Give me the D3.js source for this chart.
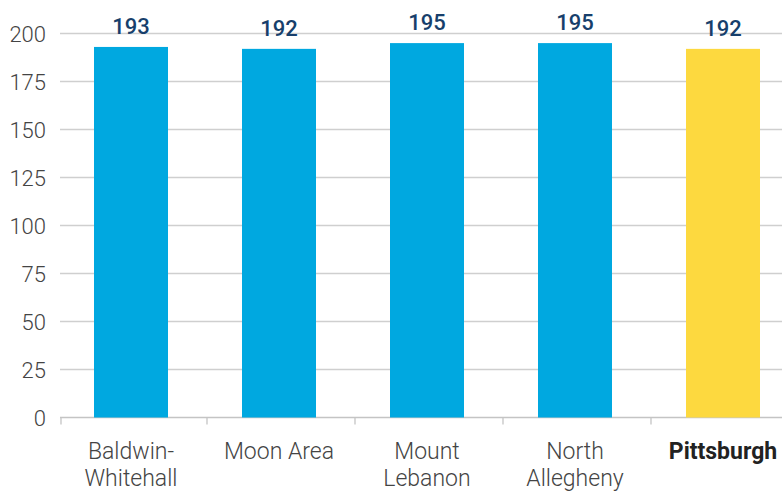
<!DOCTYPE html>
<html><head><meta charset="utf-8">
<script src="https://cdn.jsdelivr.net/npm/d3@7"></script>
<style>
html,body{margin:0;padding:0;background:#fff;overflow:hidden}
svg{display:block}
</style></head>
<body>
<svg id="chart" width="782" height="491"></svg>
<script>
const categories = ["Baldwin-Whitehall","Moon Area","Mount Lebanon","North Allegheny","Pittsburgh"];
const labelLines = [["Baldwin-","Whitehall"],["Moon Area"],["Mount","Lebanon"],["North","Allegheny"],["Pittsburgh"]];
const values = [193,192,195,195,192];
const highlight = [false,false,false,false,true];
const yTicks = [0,25,50,75,100,125,150,175,200];

const svg = d3.select("#chart");
const x = d3.scaleBand().domain(categories).range([57,797]).padding(0);
const y = d3.scaleLinear().domain([0,200]).range([417.5,33.5]);
const font = "Roboto, 'Open Sans', sans-serif";

// gridlines
svg.append("g").selectAll("line").data(yTicks).join("line")
  .attr("x1",60).attr("x2",782)
  .attr("y1",d=>y(d)).attr("y2",d=>y(d))
  .attr("stroke",d=>d===0?"#c4c4c4":"#cfcfcf").attr("stroke-width",1.3);

// y labels
svg.append("g").selectAll("text").data(yTicks).join("text")
  .attr("x",46).attr("y",d=>y(d)+8)
  .attr("text-anchor","end")
  .attr("font-family",font).attr("font-weight",300).attr("font-size",22)
  .attr("fill","#444").text(d=>d);

// x tick marks
const edges = categories.map(c=>x(c));
svg.append("g").selectAll("line").data(edges).join("line")
  .attr("x1",(d,i)=>i===0?61:d+2).attr("x2",(d,i)=>i===0?61:d+2)
  .attr("y1",y(0)).attr("y2",y(0)+7)
  .attr("stroke","#c4c4c4").attr("stroke-width",1.3);

// bars
const bw = 74;
svg.append("g").selectAll("rect").data(categories).join("rect")
  .attr("x",(d)=>x(d)+x.bandwidth()/2-bw/2)
  .attr("width",bw)
  .attr("y",(d,i)=>y(values[i]))
  .attr("height",(d,i)=>y(0)-y(values[i]))
  .attr("fill",(d,i)=>highlight[i]?"#fdd93f":"#00a8e0");

// value labels
svg.append("g").selectAll("text").data(categories).join("text")
  .attr("x",d=>x(d)+x.bandwidth()/2)
  .attr("y",(d,i)=>y(values[i])-13)
  .attr("text-anchor","middle")
  .attr("font-family",font).attr("font-weight",500).attr("font-size",22)
  .attr("fill","#173f6c").text((d,i)=>values[i]);

// category labels
const cl = svg.append("g").selectAll("text").data(categories).join("text")
  .attr("x",d=>x(d)+x.bandwidth()/2)
  .attr("y",459)
  .attr("text-anchor","middle")
  .attr("font-family",font)
  .attr("font-weight",(d,i)=>highlight[i]?700:300)
  .attr("font-size",23)
  .attr("fill",(d,i)=>highlight[i]?"#222":"#444");
cl.each(function(d,i){
  const t = d3.select(this);
  labelLines[i].forEach((ln,j)=>{
    t.append("tspan").attr("x",x(d)+x.bandwidth()/2).attr("dy",j===0?0:27).text(ln);
  });
});
</script>
</body></html>
